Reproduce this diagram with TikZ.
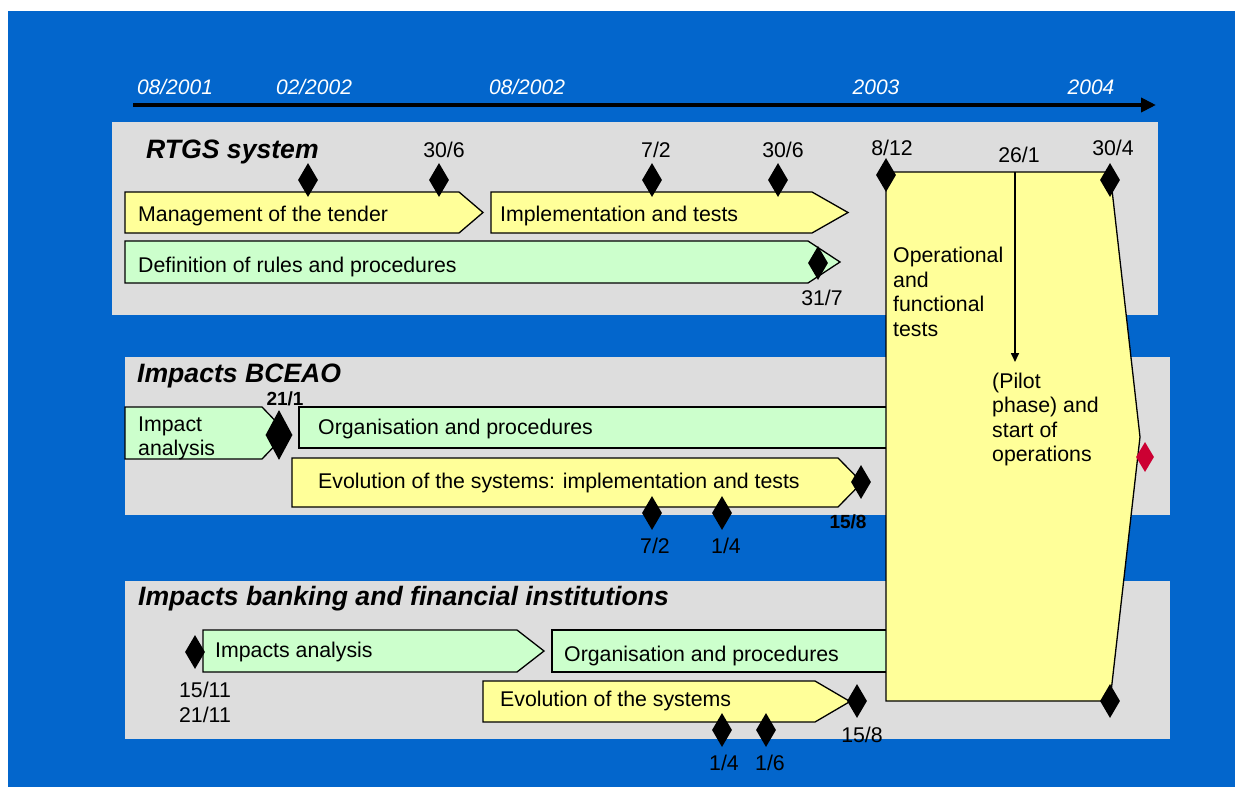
\documentclass[tikz,border=0pt]{standalone}
\usepackage{fontspec}
\setmainfont{Liberation Sans}
\usetikzlibrary{shapes.geometric,arrows.meta}
\definecolor{bgblue}{RGB}{3,102,204}
\definecolor{panelgray}{RGB}{221,221,221}
\definecolor{taskyellow}{RGB}{255,255,153}
\definecolor{taskgreen}{RGB}{204,255,204}
\definecolor{milered}{RGB}{204,0,51}

\begin{document}
\begin{tikzpicture}[x=1pt,y=-1pt,
  ybar/.style={fill=taskyellow,draw=black,line width=1.3pt},
  gbar/.style={fill=taskgreen,draw=black,line width=1.3pt},
  body/.style={font=\fontsize{21.3}{24.5}\selectfont,inner sep=0pt},
  txt/.style={body,anchor=west},
  datelbl/.style={body},
  bdatelbl/.style={font=\fontsize{19}{22}\selectfont\bfseries,inner sep=0pt},
  paneltitle/.style={font=\fontsize{26.6}{30}\selectfont\bfseries\itshape,anchor=west,inner sep=0pt},
  yearlbl/.style={font=\fontsize{21}{24}\selectfont\itshape,text=white,inner sep=0pt},
  mile/.style={diamond,fill=black,draw=none,inner sep=0pt,minimum width=20pt,minimum height=34pt},
  bigmile/.style={mile,minimum width=27pt,minimum height=50pt},
  redmile/.style={mile,fill=milered,minimum width=18pt,minimum height=30pt},
]
% page and background
\useasboundingbox (0,0) rectangle (1235,787);
\fill[white] (0,0) rectangle (1235,787);
\fill[bgblue] (8,11) rectangle (1235,787);

% time axis
\coordinate (tl0) at (133,105);
\coordinate (tl1) at (1156,105);
\draw[line width=4pt,-{Triangle[length=15pt,width=14pt]}] (tl0) -- (tl1);
\node[yearlbl] (y1) at (175,87) {08/2001};
\node[yearlbl] (y2) at (314,87) {02/2002};
\node[yearlbl] (y3) at (527,87) {08/2002};
\node[yearlbl] (y4) at (876,87) {2003};
\node[yearlbl] (y5) at (1091,87) {2004};

% panels
\fill[panelgray] (112,122) rectangle (1158,315);
\fill[panelgray] (125,357) rectangle (1170,515);
\fill[panelgray] (125,581) rectangle (1170,739);

\node[paneltitle] (h1) at (146,152) {RTGS system};
\node[paneltitle] (h2) at (137,376) {Impacts BCEAO};
\node[paneltitle] (h3) at (138,599) {Impacts banking and financial institutions};

% RTGS system tasks
\path[ybar] (125,192) -- (459,192) -- (483,212.5) -- (459,233) -- (125,233) -- cycle;
\node[txt] (a1) at (138,216) {Management of the tender};
\path[ybar] (491,192) -- (812,192) -- (848,212.5) -- (812,233) -- (491,233) -- cycle;
\node[txt] (a2) at (500,216) {Implementation and tests};
\path[gbar] (125,241) -- (808,241) -- (840,262) -- (808,283) -- (125,283) -- cycle;
\node[txt] (a3) at (138,267) {Definition of rules and procedures};

% BCEAO tasks
\path[gbar] (125,407) -- (262,407) -- (287,433) -- (262,459) -- (125,459) -- cycle;
\node[txt,align=left] (b1) at (138,438.5) {Impact\\analysis};
\path[gbar] (299,407) rectangle (895,448);
\node[txt] (b2) at (318,429) {Organisation and procedures};
\path[ybar] (292,458) -- (838,458) -- (862,482.5) -- (838,507) -- (292,507) -- cycle;
\node[txt] (b3) at (318,483) {Evolution of the systems: implementation and tests};

% banking tasks
\path[gbar] (203,630) -- (517,630) -- (544,651) -- (517,672) -- (203,672) -- cycle;
\node[txt] (c1) at (215,652) {Impacts analysis};
\path[gbar] (552,630) rectangle (895,672);
\node[txt] (c2) at (564,656) {Organisation and procedures};
\path[ybar] (483,681) -- (815,681) -- (850,701.5) -- (815,722) -- (483,722) -- cycle;
\node[txt] (c3) at (500,701) {Evolution of the systems};

% common final phase
\path[ybar] (886,172) -- (1110,172) -- (1140,437) -- (1110,701) -- (886,701) -- cycle;
\node[txt,align=left] (d1) at (893,292) {Operational\\and\\functional\\tests};
\node[txt,align=left] (d2) at (992,419.5) {(Pilot\\phase) and\\start of\\operations};
\coordinate (p0) at (1015,172);
\coordinate (p1) at (1015,362);
\draw[line width=1.6pt,-{Triangle[length=9pt,width=8pt]}] (p0) -- (p1);

% milestones, RTGS
\node[mile] (m1) at (308,180) {};
\node[mile] (m2) at (439,180) {};
\node[mile] (m3) at (652,180) {};
\node[mile] (m4) at (778,180) {};
\node[mile] (m5) at (818,263) {};
\node[mile] (m6) at (886,175) {};
\node[mile] (m7) at (1110,180) {};
\node[datelbl] (l2) at (444,150) {30/6};
\node[datelbl] (l3) at (656,150) {7/2};
\node[datelbl] (l4) at (783,150) {30/6};
\node[datelbl] (l5) at (822,298) {31/7};
\node[datelbl] (l6) at (892,148) {8/12};
\node[datelbl] (l8) at (1019,155) {26/1};
\node[datelbl] (l7) at (1113,148) {30/4};

% milestones, BCEAO
\node[bigmile] (n1) at (279,435) {};
\node[mile] (n2) at (861,482) {};
\node[mile] (n3) at (652,513) {};
\node[mile] (n4) at (722,513) {};
\node[bdatelbl] (k1) at (285,399) {21/1};
\node[bdatelbl] (k2) at (848,522) {15/8};
\node[datelbl] (k3) at (655,546) {7/2};
\node[datelbl] (k4) at (726,546) {1/4};

% milestones, banking
\node[mile] (q1) at (195,652) {};
\node[mile] (q2) at (857,701) {};
\node[mile] (q3) at (722,730) {};
\node[mile] (q4) at (766,730) {};
\node[mile] (q5) at (1110,701) {};
\node[datelbl] (r1) at (205,690) {15/11};
\node[datelbl] (r2) at (205,715) {21/11};
\node[datelbl] (r3) at (862,735) {15/8};
\node[datelbl] (r4) at (724,763) {1/4};
\node[datelbl] (r5) at (770,763) {1/6};

% start of operations
\node[redmile] (s1) at (1145,457) {};
\end{tikzpicture}
\end{document}
